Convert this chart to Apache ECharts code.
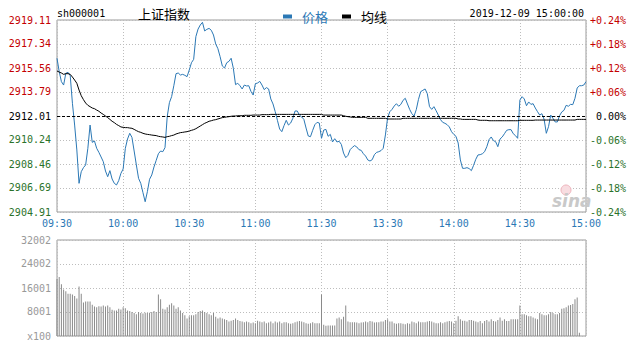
<!DOCTYPE html>
<html><head><meta charset="utf-8">
<script src="https://cdn.jsdelivr.net/npm/echarts@6/dist/echarts.min.js"></script>
<style>html,body{margin:0;padding:0;background:#fff}#c{width:634px;height:341px}</style>
</head><body><div id="c"></div>
<script>
const symbolCode = 'sh000001';
const indexName = '上证指数';
const timestamp = '2019-12-09 15:00:00';
const seriesNames = ['价格', '均线'];
const prevClose = 2912.01;
const priceTicks = [2904.91, 2906.69, 2908.46, 2910.24, 2912.01, 2913.79, 2915.56, 2917.34, 2919.11];
const pctTicks = [-0.24, -0.18, -0.12, -0.06, 0, 0.06, 0.12, 0.18, 0.24];
const volTicks = [0, 8001, 16001, 24002, 32002];
const timeLabels = ['09:30', '10:00', '10:30', '11:00', '11:30', '13:30', '14:00', '14:30', '15:00'];

// trading minutes: 09:30-11:30, 13:01-15:00
function pad(n) { return (n < 10 ? '0' : '') + n; }
const minutes = [];
for (let t = 9 * 60 + 30; t <= 11 * 60 + 30; t++) minutes.push(pad(Math.floor(t / 60)) + ':' + pad(t % 60));
for (let t = 13 * 60 + 1; t <= 15 * 60; t++) minutes.push(pad(Math.floor(t / 60)) + ':' + pad(t % 60));

const prices = [
2916.28,2915.29,2914.55,2914.30,2915.17,2915.24,2914.99,2912.95,2911.34,2909.50,
2907.03,2907.89,2908.19,2908.39,2909.62,2911.34,2910.06,2910.16,2909.62,2909.32,
2908.98,2908.63,2907.94,2907.52,2907.97,2907.35,2907.03,2906.91,2907.23,2907.77,
2908.09,2909.62,2910.31,2910.73,2910.43,2909.42,2908.39,2907.40,2907.03,2906.34,
2905.67,2906.41,2907.33,2907.65,2908.24,2908.73,2909.22,2909.42,2909.37,2909.67,
2911.96,2913.00,2913.44,2914.25,2915.14,2915.19,2915.04,2915.09,2915.02,2914.92,
2915.41,2915.95,2916.20,2917.88,2918.44,2918.74,2918.94,2918.30,2918.42,2918.49,
2918.35,2918.00,2917.34,2916.99,2916.40,2915.71,2915.56,2915.95,2916.05,2916.28,
2915.54,2914.33,2914.43,2914.25,2914.01,2914.30,2914.23,2914.25,2913.83,2913.56,
2914.40,2914.45,2914.57,2914.30,2913.96,2914.11,2914.01,2913.27,2912.90,2912.33,
2911.69,2911.05,2910.85,2911.30,2911.69,2911.34,2911.49,2911.84,2912.38,2912.38,
2912.08,2911.94,2911.76,2911.12,2910.53,2910.48,2910.95,2911.37,2911.54,2911.49,
2910.36,2910.97,2911.02,2910.51,2910.65,2910.09,2910.33,2910.09,2910.14,2909.91,
2909.27,2908.93,2909.10,2909.52,2909.69,2909.82,2909.72,2909.52,2909.47,2909.22,
2909.05,2908.76,2908.68,2908.78,2909.15,2909.32,2909.37,2909.45,2909.62,2910.61,
2911.89,2912.33,2912.50,2912.75,2912.92,2912.73,2912.87,2913.17,2913.32,2912.90,
2912.50,2912.18,2912.01,2912.48,2913.24,2913.81,2913.91,2914.01,2913.66,2912.70,
2912.50,2912.70,2912.40,2912.08,2911.74,2911.54,2911.47,2911.37,2911.20,2910.85,
2910.65,2910.51,2910.01,2908.76,2908.14,2908.14,2908.19,2908.12,2907.97,2908.36,
2908.81,2909.13,2909.15,2909.22,2909.37,2909.74,2910.26,2910.46,2910.19,2910.11,
2909.74,2910.31,2910.46,2910.70,2910.95,2911.00,2911.00,2910.70,2910.56,2910.36,
2913.19,2913.44,2913.27,2912.77,2913.05,2912.87,2912.92,2912.60,2912.33,2912.08,
2912.18,2911.76,2910.73,2911.22,2912.08,2911.84,2911.57,2911.57,2912.03,2912.31,
2912.43,2912.80,2912.73,2912.87,2912.85,2913.32,2914.08,2914.25,2914.25,2914.30,
2914.55];

const avgPrices = [
2915.34,2915.26,2915.19,2915.09,2915.14,2915.14,2915.09,2914.89,2914.67,2914.43,
2913.93,2913.51,2913.22,2912.97,2912.80,2912.70,2912.60,2912.55,2912.45,2912.36,
2912.23,2912.13,2912.01,2911.89,2911.76,2911.62,2911.52,2911.39,2911.30,2911.20,
2911.17,2911.15,2911.15,2911.12,2911.10,2911.02,2910.93,2910.85,2910.80,2910.73,
2910.68,2910.65,2910.63,2910.60,2910.58,2910.56,2910.51,2910.48,2910.46,2910.43,
2910.48,2910.51,2910.56,2910.60,2910.68,2910.73,2910.78,2910.80,2910.83,2910.85,
2910.90,2910.95,2911.00,2911.07,2911.17,2911.27,2911.37,2911.47,2911.54,2911.62,
2911.66,2911.71,2911.74,2911.79,2911.84,2911.89,2911.91,2911.94,2911.96,2911.99,
2912.01,2912.01,2912.03,2912.03,2912.03,2912.06,2912.06,2912.06,2912.06,2912.08,
2912.08,2912.08,2912.08,2912.11,2912.11,2912.11,2912.11,2912.13,2912.13,2912.13,
2912.13,2912.13,2912.13,2912.13,2912.13,2912.13,2912.13,2912.13,2912.13,2912.13,
2912.13,2912.13,2912.13,2912.13,2912.13,2912.13,2912.13,2912.13,2912.13,2912.13,
2912.13,2912.08,2912.08,2912.08,2912.08,2912.08,2912.08,2912.08,2912.08,2912.08,
2912.03,2911.99,2911.96,2911.94,2911.91,2911.91,2911.91,2911.91,2911.91,2911.91,
2911.91,2911.84,2911.84,2911.84,2911.84,2911.84,2911.84,2911.84,2911.84,2911.84,
2911.79,2911.79,2911.79,2911.79,2911.79,2911.79,2911.79,2911.84,2911.84,2911.84,
2911.84,2911.84,2911.84,2911.84,2911.84,2911.84,2911.84,2911.84,2911.84,2911.84,
2911.84,2911.84,2911.84,2911.84,2911.84,2911.84,2911.84,2911.84,2911.84,2911.84,
2911.84,2911.84,2911.79,2911.79,2911.76,2911.76,2911.76,2911.76,2911.76,2911.76,
2911.76,2911.71,2911.69,2911.69,2911.69,2911.69,2911.66,2911.66,2911.66,2911.66,
2911.66,2911.66,2911.66,2911.66,2911.66,2911.66,2911.66,2911.66,2911.66,2911.66,
2911.69,2911.69,2911.69,2911.69,2911.69,2911.69,2911.69,2911.71,2911.71,2911.71,
2911.71,2911.71,2911.71,2911.71,2911.71,2911.71,2911.71,2911.71,2911.71,2911.71,
2911.71,2911.71,2911.71,2911.71,2911.71,2911.71,2911.76,2911.76,2911.76,2911.76,
2911.76];

const volumes = [
19000,19700,17280,15470,14930,14080,14080,13870,13330,12480,
16530,14080,11200,11520,11520,11520,10450,9810,9600,9920,
9810,10130,9810,10130,9600,8750,8530,8530,9070,8850,
9600,9280,8530,8320,8000,7680,7250,8000,7680,7470,
7790,7680,7790,8000,8320,8000,13870,12270,9070,8850,
9600,10450,10880,10130,9070,9600,8530,7680,6930,5870,
6610,6930,6930,7250,8000,8320,8530,8000,7680,7250,
6930,7680,6400,5870,6190,5870,5550,5330,4800,5120,
5330,5870,5330,5010,4800,4590,4800,4590,4270,4480,
4270,5120,4800,4590,4800,4270,4480,4800,4270,4800,
4480,4800,4270,4590,4590,4270,4050,4270,4590,4800,
5010,4800,4590,4270,4050,4270,4590,4270,4270,4270,
13870,3730,3410,3520,3520,3520,3520,5870,6190,5550,
6400,10130,4800,4590,4590,4590,4480,4270,4480,4590,
4800,4590,5010,4800,4480,4590,4590,4800,4800,5330,
5550,4800,4800,4270,4050,4270,4270,4050,3950,4270,
4050,4800,4590,4270,4800,4590,4590,4590,4800,5010,
4800,4480,4270,4270,4590,4270,4590,4800,5010,4800,
4270,5120,6610,5550,5120,5120,4800,5330,5330,5120,
4800,4590,5010,4270,5010,5330,4800,5550,5010,4800,
5330,6190,5120,5550,5010,5010,5550,5550,5550,5550,
10130,7250,7250,6930,6610,6610,6190,5870,5550,7680,
7250,6930,6930,7250,8000,7680,7250,7250,7680,9070,
9280,9600,10130,10350,10670,12270,12800,1070,0,0,
0];

[['minutes', minutes], ['prices', prices], ['avgPrices', avgPrices], ['volumes', volumes]].forEach(function (p) {
  if (p[1].length !== 241) throw new Error(p[0] + ' length ' + p[1].length);
});

const priceColor = '#2b78b5';
const upColor = '#c40000';
const downColor = '#2a722a';
const mono = '"DejaVu Sans Mono", monospace';
const cjk = '"Noto Sans CJK SC", sans-serif';
const gridLine = { show: true, lineStyle: { color: '#bdbdbd', type: [1, 2], width: 1 } };
const showTime = function (i, v) { return timeLabels.indexOf(v) >= 0; };

const chart = echarts.init(document.getElementById('c'), null, { renderer: 'svg' });
chart.setOption({
  animation: false,
  backgroundColor: '#fff',
  grid: [
    { left: 57, right: 48, top: 20, height: 192, show: true, borderColor: '#9a9a9a', borderWidth: 1, backgroundColor: 'transparent' },
    { left: 57, right: 48, top: 240, height: 100, show: true, borderColor: '#9a9a9a', borderWidth: 1, backgroundColor: 'transparent' }
  ],
  legend: {
    left: 283, top: 10, padding: 0, icon: 'rect', itemWidth: 9, itemHeight: 4, itemGap: 14,
    textStyle: { fontSize: 13, fontFamily: cjk, padding: [0, 0, 0, 5] },
    data: [
      { name: seriesNames[0], textStyle: { color: priceColor } },
      { name: seriesNames[1], textStyle: { color: '#000' } }
    ]
  },
  xAxis: [
    {
      type: 'category', gridIndex: 0, data: minutes, boundaryGap: false,
      axisLine: { show: false }, axisTick: { show: false },
      axisLabel: { interval: showTime, color: priceColor, fontFamily: mono, fontSize: 10, margin: 6 },
      splitLine: Object.assign({ interval: showTime }, gridLine)
    },
    {
      type: 'category', gridIndex: 1, data: minutes, boundaryGap: false,
      axisLine: { show: false }, axisTick: { show: false }, axisLabel: { show: false },
      splitLine: Object.assign({ interval: showTime }, gridLine)
    }
  ],
  yAxis: [
    {
      type: 'value', gridIndex: 0, position: 'left', min: priceTicks[0], max: priceTicks[priceTicks.length - 1],
      axisLine: { show: false }, axisTick: { show: false, customValues: priceTicks },
      axisLabel: {
        customValues: priceTicks, margin: 6, fontFamily: mono, fontSize: 10,
        formatter: function (v) { return v.toFixed(2); },
        color: function (v) { v = Number(v); return v > prevClose + 0.001 ? upColor : (v < prevClose - 0.001 ? downColor : '#000'); }
      },
      splitLine: gridLine
    },
    {
      type: 'value', gridIndex: 0, position: 'right', min: pctTicks[0], max: pctTicks[pctTicks.length - 1],
      axisLine: { show: false }, axisTick: { show: false, customValues: pctTicks },
      axisLabel: {
        customValues: pctTicks, margin: 40, align: 'right', fontFamily: mono, fontSize: 10,
        formatter: function (v) { if (Math.abs(v) < 1e-9) return '0.00%'; return (v > 0 ? '+' : '') + v.toFixed(2) + '%'; },
        color: function (v) { v = Number(v); return v > 1e-9 ? upColor : (v < -1e-9 ? downColor : '#000'); }
      },
      splitLine: { show: false }
    },
    {
      type: 'value', gridIndex: 1, position: 'left', min: volTicks[0], max: volTicks[volTicks.length - 1],
      axisLine: { show: false }, axisTick: { show: false, customValues: volTicks },
      axisLabel: {
        customValues: volTicks, margin: 6, fontFamily: mono, fontSize: 10, color: '#999',
        formatter: function (v) { return v === 0 ? 'x100' : String(v); }
      },
      splitLine: gridLine
    }
  ],
  series: [
    {
      name: seriesNames[0], type: 'line', xAxisIndex: 0, yAxisIndex: 0, data: prices,
      symbol: 'none', lineStyle: { width: 1, color: priceColor }, itemStyle: { color: priceColor }, z: 3,
      markLine: {
        silent: true, symbol: 'none', label: { show: false },
        lineStyle: { color: '#000', type: [3, 2], width: 1 },
        data: [{ yAxis: prevClose }]
      }
    },
    {
      name: seriesNames[1], type: 'line', xAxisIndex: 0, yAxisIndex: 0, data: avgPrices,
      symbol: 'none', lineStyle: { width: 1, color: '#000' }, itemStyle: { color: '#000' }, z: 4
    },
    {
      name: 'volume', type: 'bar', xAxisIndex: 1, yAxisIndex: 2, data: volumes,
      barWidth: 1, itemStyle: { color: '#8a8a8a' }
    }
  ],
  graphic: [
    { type: 'text', x: 57, y: 13, style: { text: symbolCode, font: '10px ' + mono, fill: '#000', verticalAlign: 'middle', align: 'left' } },
    { type: 'text', x: 138, y: 13, style: { text: indexName, font: '13px ' + cjk, fill: '#000', verticalAlign: 'middle', align: 'left' } },
    { type: 'text', x: 584, y: 13, style: { text: timestamp, font: '10px ' + mono, fill: '#000', verticalAlign: 'middle', align: 'right' } },
    { type: 'circle', shape: { cx: 566, cy: 190, r: 5 }, style: { fill: '#f8dde1', stroke: '#efb3bc', lineWidth: 1 }, z: 1 },
    { type: 'text', x: 552, y: 201, style: { text: 'sina', font: 'italic bold 17px "DejaVu Sans", sans-serif', fill: '#c9c9c9', verticalAlign: 'middle', align: 'left' }, z: 1 }
  ]
});
</script>
</body></html>
